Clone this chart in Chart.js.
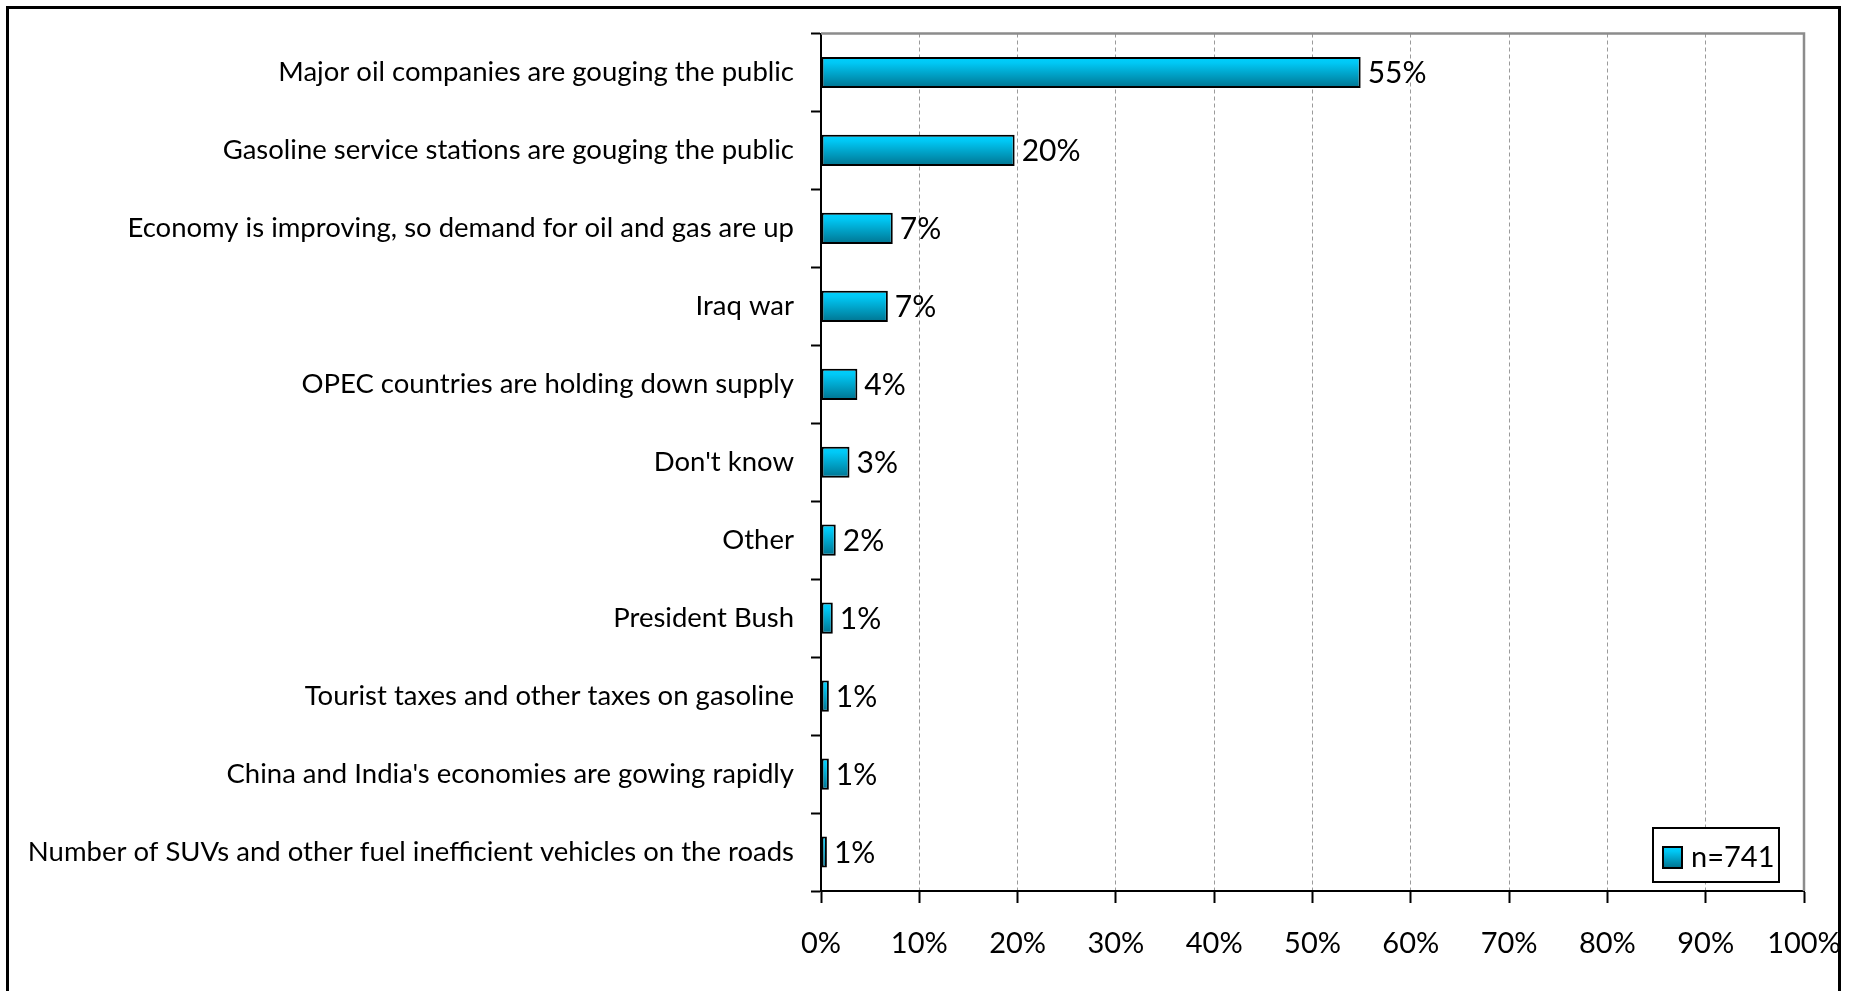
<!DOCTYPE html>
<html>
<head>
<meta charset="utf-8">
<title>Reasons for high gas prices</title>
<script src="https://cdn.jsdelivr.net/npm/chart.js@4.4.0/dist/chart.umd.min.js"></script>
<style>
  html, body { margin: 0; padding: 0; background: #fff; }
  #wrap { position: relative; width: 1849px; height: 991px; }
</style>
</head>
<body>
<div id="wrap"><canvas id="chart" width="1849" height="991"></canvas></div>
<script>
// Données
const categories = [
    'Major oil companies are gouging the public',
    'Gasoline service stations are gouging the public',
    'Economy is improving, so demand for oil and gas are up',
    'Iraq war',
    'OPEC countries are holding down supply',
    "Don't know",
    'Other',
    'President Bush',
    'Tourist taxes and other taxes on gasoline',
    "China and India's economies are gowing rapidly",
    'Number of SUVs and other fuel inefficient vehicles on the roads'
];
const shares = [54.9, 19.7, 7.3, 6.8, 3.7, 2.9, 1.5, 1.2, 0.8, 0.8, 0.6];
const shareLabels = ['55%', '20%', '7%', '7%', '4%', '3%', '2%', '1%', '1%', '1%', '1%'];
const sampleLabel = 'n=741';

const FONT = 'Lato, "DejaVu Sans", sans-serif';

function barGradient(ctx, top, bottom) {
    const g = ctx.createLinearGradient(0, top, 0, bottom);
    g.addColorStop(0, '#00d2ff');
    g.addColorStop(0.2, '#00c8f5');
    g.addColorStop(1, '#00728e');
    return g;
}

// Étiquettes de valeur au bout des barres
const valueLabels = {
    id: 'valueLabels',
    afterDatasetsDraw(chart) {
        const ctx = chart.ctx;
        const meta = chart.getDatasetMeta(0);
        ctx.save();
        ctx.font = '30px ' + FONT;
        ctx.fillStyle = '#000';
        ctx.textAlign = 'left';
        ctx.textBaseline = 'middle';
        meta.data.forEach((bar, i) => {
            ctx.fillText(shareLabels[i], bar.x + 7, bar.y + 1);
        });
        ctx.restore();
    }
};

// Cadre gris de la zone de tracé, cadre noir extérieur et légende
const frame = {
    id: 'frame',
    beforeDatasetsDraw(chart) {
        const { ctx, chartArea } = chart;
        ctx.save();
        ctx.strokeStyle = '#8c8c8c';
        ctx.lineWidth = 2.5;
        ctx.beginPath();
        ctx.moveTo(chartArea.left, chartArea.top);
        ctx.lineTo(chartArea.right, chartArea.top);
        ctx.lineTo(chartArea.right, chartArea.bottom);
        ctx.stroke();
        ctx.restore();
    },
    afterDraw(chart) {
        const { ctx, chartArea } = chart;
        ctx.save();
        ctx.strokeStyle = '#000';
        ctx.lineWidth = 3;
        ctx.strokeRect(7.5, 7.5, 1832, 1000);

        // légende
        const bx = chartArea.right - 151, by = chartArea.bottom - 63;
        ctx.fillStyle = '#fff';
        ctx.fillRect(bx, by, 126, 54);
        ctx.lineWidth = 2;
        ctx.strokeRect(bx, by, 126, 54);
        const sx = bx + 10, sy = by + 19;
        ctx.fillStyle = barGradient(ctx, sy, sy + 21);
        ctx.fillRect(sx, sy, 19, 21);
        ctx.strokeRect(sx, sy, 19, 21);
        ctx.fillStyle = '#000';
        ctx.font = '29px ' + FONT;
        ctx.textAlign = 'left';
        ctx.textBaseline = 'middle';
        ctx.fillText(chart.data.datasets[0].label, sx + 28, sy + 11);
        ctx.restore();
    }
};

const ctx = document.getElementById('chart').getContext('2d');
new Chart(ctx, {
    type: 'bar',
    data: {
        labels: categories,
        datasets: [{
            label: sampleLabel,
            data: shares,
            backgroundColor: (c) => {
                const chart = c.chart;
                if (!chart.chartArea || c.dataIndex === undefined) return '#00c8f5';
                const yc = chart.scales.y.getPixelForValue(c.dataIndex);
                return barGradient(chart.ctx, yc - 16, yc + 16);
            },
            borderColor: '#000',
            borderWidth: 2,
            borderSkipped: false,
            barPercentage: 0.4,
            categoryPercentage: 1
        }]
    },
    options: {
        indexAxis: 'y',
        responsive: false,
        animation: false,
        devicePixelRatio: 1,
        layout: { padding: { top: 31, right: 45, left: 0, bottom: 0 } },
        plugins: {
            legend: { display: false },
            tooltip: { enabled: false }
        },
        scales: {
            x: {
                min: 0,
                max: 100,
                ticks: {
                    stepSize: 10,
                    color: '#000',
                    padding: 23,
                    font: { family: FONT, size: 29 },
                    callback: (v) => v + '%'
                },
                grid: {
                    color: '#9a9a9a',
                    lineWidth: 1,
                    tickColor: '#000',
                    tickWidth: 2,
                    tickLength: 12,
                    tickBorderDash: []
                },
                border: { color: '#000', width: 2, dash: [4, 3] },
                afterFit: (scale) => {
                    scale.height = 100;
                    scale.paddingLeft = 0;
                    scale.paddingRight = 0;
                }
            },
            y: {
                ticks: {
                    color: '#000',
                    padding: 17,
                    font: { family: FONT, size: 27.5 }
                },
                grid: {
                    drawOnChartArea: false,
                    offset: true,
                    tickColor: '#000',
                    tickWidth: 2,
                    tickLength: 10
                },
                border: { color: '#000', width: 2 },
                afterFit: (scale) => { scale.width = 821; }
            }
        }
    },
    plugins: [valueLabels, frame]
});
</script>
</body>
</html>
